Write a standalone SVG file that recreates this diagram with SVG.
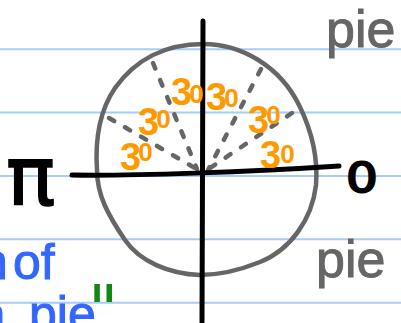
<svg xmlns="http://www.w3.org/2000/svg" width="401" height="323" viewBox="0 0 401 323">
<style>
.rule{stroke:#a6cdf6;stroke-width:2}
.grey{fill:none;stroke:#666;stroke-linecap:round;stroke-linejoin:round}
.dash{fill:none;stroke:#666;stroke-width:4.5;stroke-linecap:round;stroke-dasharray:6 12.5}
.axis{fill:none;stroke:#000;stroke-width:5;stroke-linecap:round}
.thirty{font-family:"Liberation Sans",Arial,sans-serif;font-weight:bold;font-size:38px;fill:#ff9900}
.thirty tspan.z{font-size:26px}
.pie{font-family:"Liberation Sans",Arial,sans-serif;font-size:52px;fill:#666;stroke:#666;stroke-width:1}
.blue{font-family:"Liberation Sans",Arial,sans-serif;font-size:50px;fill:#3366ff;stroke:#3366ff;stroke-width:1}
</style>
<rect width="401" height="323" fill="#fff"/>
<g id="paper">
<line class="rule" x1="0" y1="49.3" x2="401" y2="49.3"/>
<line class="rule" x1="0" y1="112.6" x2="401" y2="112.6"/>
<line class="rule" x1="0" y1="176" x2="401" y2="176"/>
<line class="rule" x1="0" y1="239.3" x2="401" y2="239.3"/>
<line class="rule" x1="0" y1="302.7" x2="401" y2="302.7"/>
</g>
<g id="circle">
<path class="grey" stroke-width="4.5" d="M203,44 C240,44 280,65 300,107 C312,132 318,160 316,185 C312,220 290,250 260,262 C240,270 220,275 200,275 C170,274 140,262 125,240 C108,215 97,195 97,170 C95,140 100,110 115,88 C135,60 165,44 203,44 Z"/>
</g>
<g id="connectors">
<path class="dash" d="M109,118 L200,171"/>
<path class="dash" d="M153,63 L197,169"/>
<path class="dash" d="M261,69 L208,170"/>
<path class="dash" d="M292,113 L207,170"/>
</g>
<g id="axes">
<path class="axis" d="M203,21 L202,322"/>
<path class="axis" d="M72,175 C130,176 250,172 339,166"/>
</g>
<g id="labels30">
<text class="thirty" x="171" y="105">3<tspan class="z" dx="-3" dy="-2">0</tspan></text>
<text class="thirty" x="206" y="110">3<tspan class="z" dx="-3" dy="-3">0</tspan></text>
<text class="thirty" x="248" y="133">3<tspan class="z" dx="-3" dy="-9">0</tspan></text>
<text class="thirty" x="260" y="168">3<tspan class="z" dx="-1" dy="-5">0</tspan></text>
<text class="thirty" x="138" y="135">3<tspan class="z" dx="-3" dy="-7">0</tspan></text>
<text class="thirty" x="120" y="170">3<tspan class="z" dx="-3" dy="-9">0</tspan></text>
</g>
<g id="pi"><text x="6" y="205" font-family="DejaVu Sans,sans-serif" font-size="82" fill="#000" stroke="#000" stroke-width="1.5">π</text></g>
<g id="zero"><text transform="translate(346,192) scale(1.25,1)" x="0" y="0" font-family="DejaVu Sans,sans-serif" font-size="40" fill="#000" stroke="#000" stroke-width="2">0</text></g>
<g id="pie-top"><text class="pie" x="326" y="47">pie</text></g>
<g id="pie-bottom"><text class="pie" x="316" y="277">pie</text></g>
<g id="blue-note">
<text class="blue" x="-20" y="279">n<tspan x="13">of</tspan></text>
<text class="blue" font-size="46" x="-22" y="331">a<tspan x="29">pie</tspan></text>
</g>
<g id="quote"><text x="88" y="332" font-family="DejaVu Sans,sans-serif" font-size="66" fill="#118811">"</text></g>
</svg>
